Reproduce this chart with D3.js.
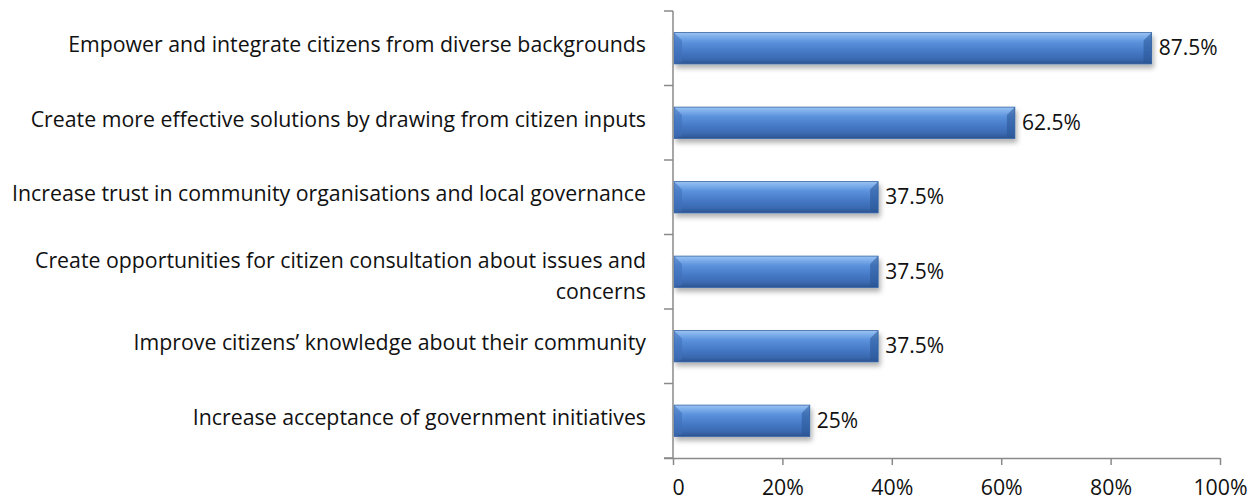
<!DOCTYPE html>
<html>
<head>
<meta charset="utf-8">
<script src="https://cdn.jsdelivr.net/npm/d3@7"></script>
<style>
  html, body { margin: 0; padding: 0; background: #fff; }
  svg { display: block; font-family: "Open Sans", "Noto Sans", sans-serif; }
</style>
</head>
<body>
<svg id="chart" width="1249" height="501"></svg>
<script>
// Survey outcomes, top to bottom
const categories = [
  "Empower and integrate citizens from diverse backgrounds",
  "Create more effective solutions by drawing from citizen inputs",
  "Increase trust in community organisations and local governance",
  "Create opportunities for citizen consultation about issues and concerns",
  "Improve citizens’ knowledge about their community",
  "Increase acceptance of government initiatives"
];
const shares = [87.5, 62.5, 37.5, 37.5, 37.5, 25];
const valueLabels = ["87.5%", "62.5%", "37.5%", "37.5%", "37.5%", "25%"];
const tickValues = [0, 20, 40, 60, 80, 100];
const tickLabels = ["0", "20%", "40%", "60%", "80%", "100%"];
// Long labels are split into lines by hand
const labelLines = [
  ["Empower and integrate citizens from diverse backgrounds"],
  ["Create more effective solutions by drawing from citizen inputs"],
  ["Increase trust in community organisations and local governance"],
  ["Create opportunities for citizen consultation about issues and", "concerns"],
  ["Improve citizens’ knowledge about their community"],
  ["Increase acceptance of government initiatives"]
];

const svg = d3.select("#chart");
const plot = { left: 673, right: 1220, top: 11, bottom: 458 };
const fontSize = 21.3;
const lineGap = 31;

const x = d3.scaleLinear().domain([0, 100]).range([plot.left, plot.right]);
const y = d3.scaleBand().domain(categories).range([plot.top, plot.bottom]).paddingInner(0.58).paddingOuter(0.29);
const yb = d3.scaleBand().domain(categories).range([plot.top, plot.bottom]);

const defs = svg.append("defs");
const grad = defs.append("linearGradient").attr("id", "barGrad")
  .attr("x1", 0).attr("y1", 0).attr("x2", 0).attr("y2", 1);
[[0, "#9cc3f0"], [0.12, "#7fb0ec"], [0.3, "#5b92dc"], [0.6, "#4679c6"], [0.85, "#3a69b0"], [1, "#2c528e"]]
  .forEach(([o, c]) => grad.append("stop").attr("offset", o).attr("stop-color", c));
const shadow = defs.append("filter").attr("id", "barShadow")
  .attr("x", "-5%").attr("y", "-30%").attr("width", "115%").attr("height", "180%");
shadow.append("feDropShadow").attr("dx", 2).attr("dy", 4).attr("stdDeviation", 2.5)
  .attr("flood-color", "#000").attr("flood-opacity", 0.3);

// Bars
const bars = svg.append("g").selectAll("g").data(categories).join("g");
bars.append("rect")
  .attr("x", x(0) + 1)
  .attr("y", d => y(d))
  .attr("width", (d, i) => x(shares[i]) - x(0) - 1)
  .attr("height", y.bandwidth())
  .attr("fill", "url(#barGrad)")
  .attr("stroke", "#3566a8")
  .attr("stroke-width", 0.8)
  .attr("filter", "url(#barShadow)");
// Bevel at each end of the bar
const bev = 8;
bars.append("path")
  .attr("d", d => {
    const x0 = x(0) + 1, yy = y(d), h = y.bandwidth();
    return `M${x0},${yy} L${x0 + bev},${yy + bev} L${x0 + bev},${yy + h - 2} L${x0},${yy + h}Z`;
  })
  .attr("fill", "#3f70b8").attr("opacity", 0.55);
bars.append("path")
  .attr("d", (d, i) => {
    const x1 = x(shares[i]), yy = y(d), h = y.bandwidth();
    return `M${x1},${yy} L${x1 - bev},${yy + bev} L${x1 - bev},${yy + h - 2} L${x1},${yy + h}Z`;
  })
  .attr("fill", "#2a5596").attr("opacity", 0.55);

// Value labels
svg.append("g").selectAll("text").data(categories).join("text")
  .attr("x", (d, i) => x(shares[i]) + 7)
  .attr("y", d => y(d) + y.bandwidth() / 2 + 6.8)
  .attr("font-size", 21)
  .attr("fill", "#111")
  .text((d, i) => valueLabels[i]);

// Category labels
const lab = svg.append("g").selectAll("text").data(categories).join("text")
  .attr("text-anchor", "end")
  .attr("font-size", fontSize)
  .attr("fill", "#111")
  .attr("transform", (d, i) => {
    const n = labelLines[i].length;
    const base = y(d) + y.bandwidth() / 2 + 4 - (n > 1 ? 7.3 : 0);
    return `translate(${plot.left - 27},${base})`;
  });
lab.selectAll("tspan").data((d, i) => labelLines[i]).join("tspan")
  .attr("x", 0).attr("y", (d, j) => j * lineGap).text(d => d);

// Y axis line with ticks at category boundaries
const axisColor = "#8a8a8a";
svg.append("line").attr("x1", plot.left).attr("x2", plot.left).attr("y1", plot.top).attr("y2", plot.bottom)
  .attr("stroke", axisColor).attr("stroke-width", 1.5);
const bounds = categories.map(d => yb(d)).concat([plot.bottom]);
svg.append("g").selectAll("line").data(bounds).join("line")
  .attr("x1", plot.left - 9).attr("x2", plot.left).attr("y1", d => d).attr("y2", d => d)
  .attr("stroke", axisColor).attr("stroke-width", 1.5);

// X axis
const xAxis = svg.append("g").attr("transform", `translate(0,${plot.bottom})`)
  .call(d3.axisBottom(x).tickValues(tickValues).tickSize(7).tickSizeOuter(0).tickPadding(15)
    .tickFormat((d, i) => tickLabels[i]));
xAxis.select(".domain").attr("stroke", axisColor).attr("stroke-width", 1.5)
  .attr("d", `M${plot.left - 9},0.5H${plot.right}`);
xAxis.selectAll(".tick line").attr("stroke", axisColor).attr("stroke-width", 1.5);
xAxis.selectAll(".tick text").attr("font-size", 21.3).attr("fill", "#111")
  .attr("font-family", "\"Open Sans\", \"Noto Sans\", sans-serif");
xAxis.select(".tick text").attr("dx", 5);
</script>
</body>
</html>
